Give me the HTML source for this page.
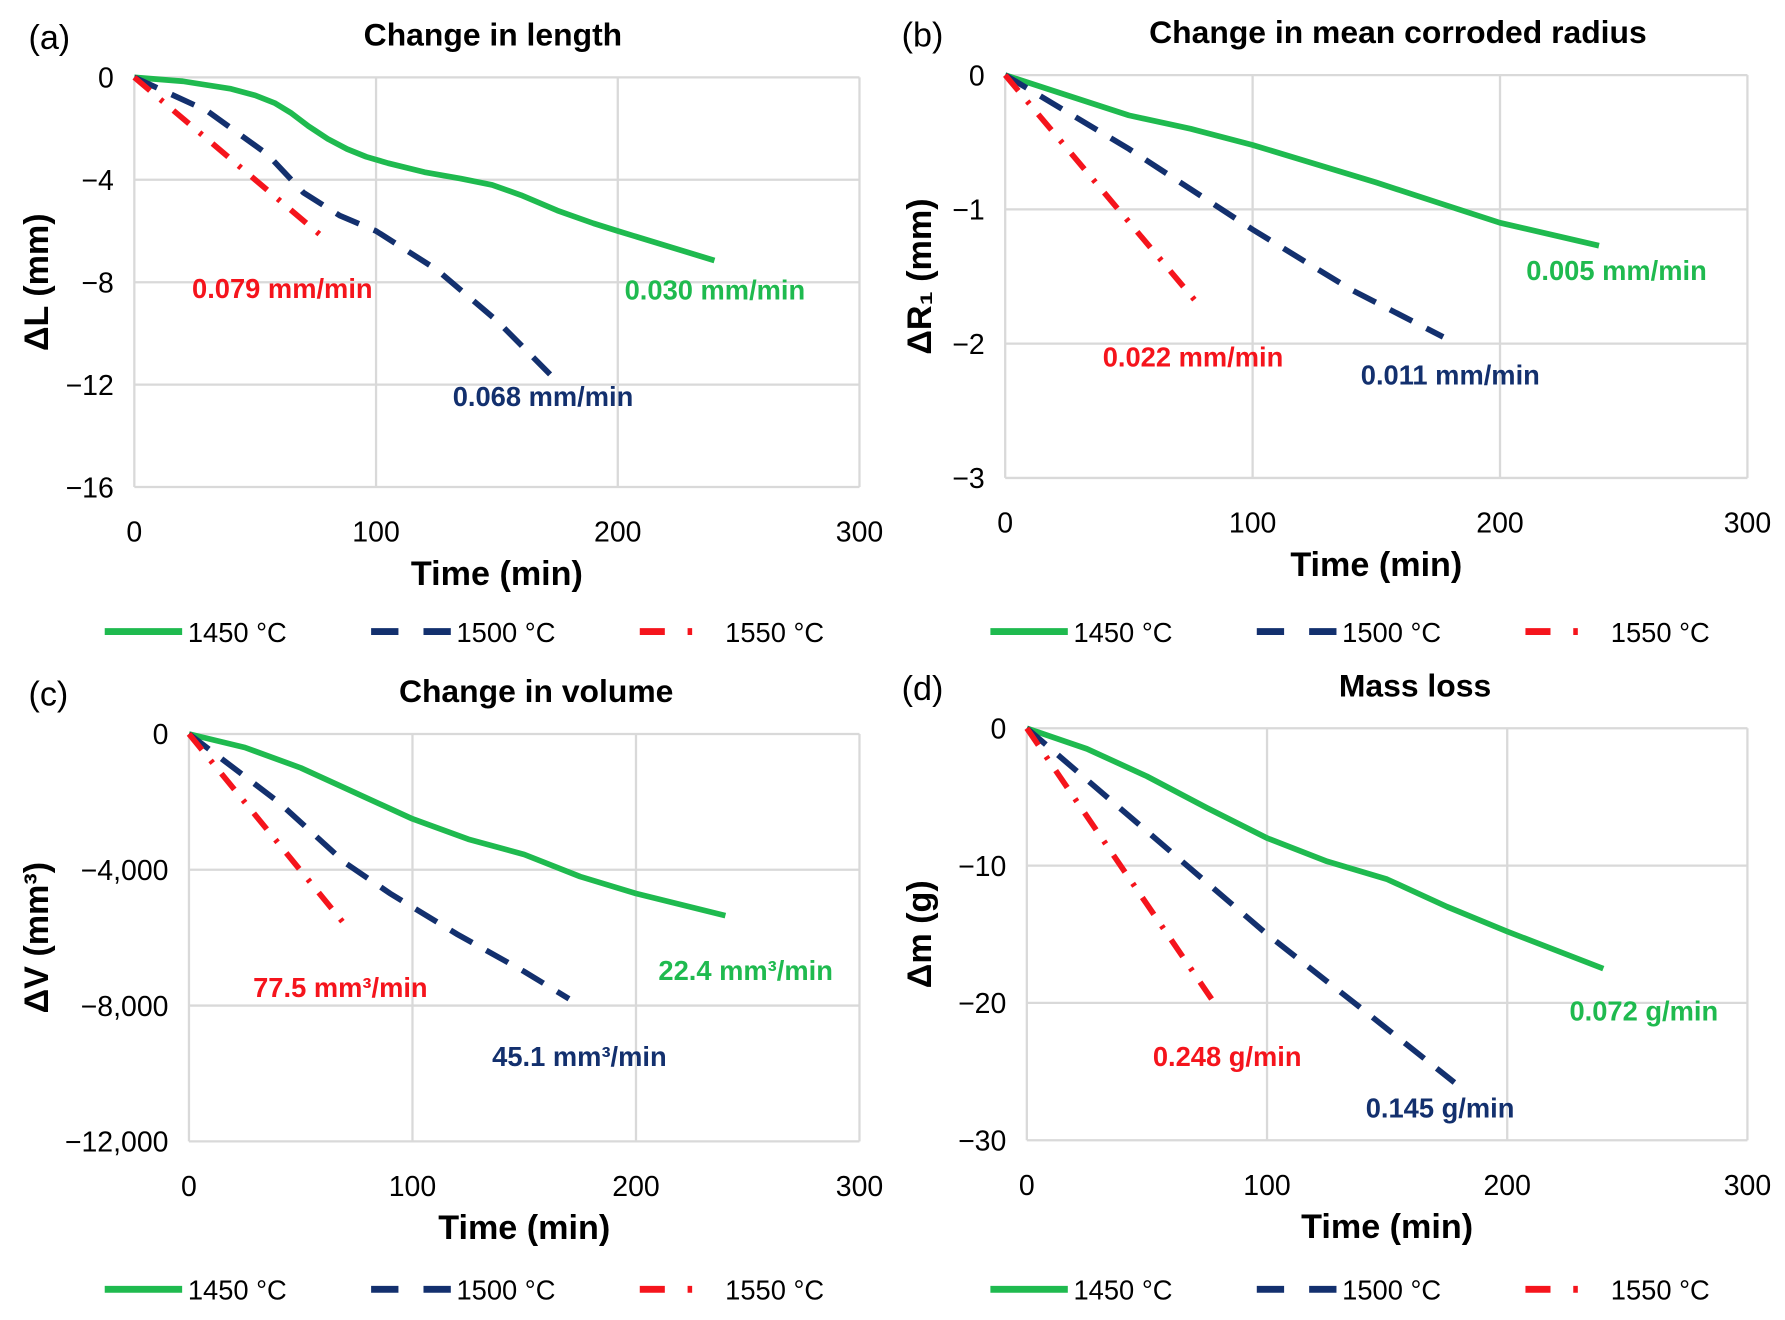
<!DOCTYPE html>
<html><head><meta charset="utf-8"><style>
html,body{margin:0;padding:0;background:#fff}
svg{display:block}
text{font-family:"Liberation Sans","DejaVu Sans",sans-serif}
</style></head><body>
<svg id="s" width="1785" height="1320" viewBox="0 0 1568 1160" preserveAspectRatio="none" xmlns="http://www.w3.org/2000/svg"></svg>
<script>
const s=document.getElementById('s');let h='';
const G='#1fba4f',B='#13306e',R='#f5141c';
function panel(p){
 const {x0,x1,y0,y1,ymin,yt,ytl}=p;
 const X=t=>x0+(x1-x0)*t/300, Y=v=>y0+(y1-y0)*v/ymin;
 for(const v of yt){h+=`<line x1="${x0}" x2="${x1}" y1="${Y(v)}" y2="${Y(v)}" stroke="#d9d9d9" stroke-width="2"/>`;}
 for(const t of [0,100,200,300]){h+=`<line x1="${X(t)}" x2="${X(t)}" y1="${y0}" y2="${y1}" stroke="#d9d9d9" stroke-width="2"/>`;
  h+=`<text x="${X(t)}" y="${y1+48}" font-size="25" text-anchor="middle" fill="#000">${t}</text>`;}
 yt.forEach((v,i)=>{h+=`<text x="${x0-18}" y="${Y(v)+9}" font-size="25" text-anchor="end">${ytl[i]}</text>`;});
 h+=`<text x="${(x0+x1)/2}" y="${y1+86}" font-size="30" font-weight="bold" text-anchor="middle">Time (min)</text>`;
 h+=`<text x="${p.tx}" y="${y0-28}" font-size="28" font-weight="bold" text-anchor="middle">${p.title}</text>`;
 h+=`<text x="${p.lx}" y="${y0-25}" font-size="30">${p.letter}</text>`;
 h+=`<text transform="translate(${p.ax},${(y0+y1)/2}) rotate(-90)" font-size="30" font-weight="bold" text-anchor="middle">${p.ylab}</text>`;
 const path=(pts)=>'M'+pts.map(q=>X(q[0]).toFixed(1)+','+Y(q[1]).toFixed(1)).join(' L');
 h+=`<path d="${path(p.g)}" fill="none" stroke="${G}" stroke-width="5" stroke-linejoin="round"/>`;
 h+=`<path d="${path(p.b)}" fill="none" stroke="${B}" stroke-width="5" stroke-dasharray="22,14"/>`;
 h+=`<path d="${path(p.r)}" fill="none" stroke="${R}" stroke-width="5" stroke-dasharray="18,12,3,12"/>`;
 for(const l of p.labs){h+=`<text x="${l[0]}" y="${l[1]}" font-size="24" font-weight="bold" fill="${l[2]}" text-anchor="middle">${l[3]}</text>`;}
 const ly=p.ly, ox=p.lox;
 h+=`<line x1="${ox+92}" x2="${ox+160}" y1="${ly}" y2="${ly}" stroke="${G}" stroke-width="6"/><text x="${ox+165}" y="${ly+9}" font-size="24">1450 °C</text>`;
 h+=`<line x1="${ox+326}" x2="${ox+396}" y1="${ly}" y2="${ly}" stroke="${B}" stroke-width="6" stroke-dasharray="24,22"/><text x="${ox+401}" y="${ly+9}" font-size="24">1500 °C</text>`;
 h+=`<line x1="${ox+562}" x2="${ox+615}" y1="${ly}" y2="${ly}" stroke="${R}" stroke-width="6" stroke-dasharray="22,20,4,20"/><text x="${ox+637}" y="${ly+9}" font-size="24">1550 °C</text>`;
}
panel({x0:118,x1:755,y0:68,y1:428,ymin:-16,yt:[0,-4,-8,-12,-16],ytl:['0','−4','−8','−12','−16'],
 title:'Change in length',tx:433,letter:'(a)',lx:25,ax:42,ylab:'ΔL (mm)',ly:555,lox:0,
 g:[[0,0],[20,-0.15],[40,-0.45],[50,-0.7],[58,-1],[65,-1.4],[72,-1.9],[80,-2.4],[88,-2.8],[96,-3.1],[105,-3.35],[120,-3.7],[135,-3.95],[148,-4.2],[160,-4.6],[175,-5.2],[190,-5.7],[200,-6],[240,-7.15]],
 b:[[0,0],[30,-1.3],[55,-3],[70,-4.5],[85,-5.4],[100,-6],[125,-7.5],[150,-9.5],[172,-11.6]],
 r:[[0,0],[80,-6.4]],
 labs:[[248,262,R,'0.079 mm/min'],[628,263,G,'0.030 mm/min'],[477,357,B,'0.068 mm/min']]});
panel({x0:883,x1:1535,y0:66,y1:420,ymin:-3,yt:[0,-1,-2,-3],ytl:['0','−1','−2','−3'],
 title:'Change in mean corroded radius',tx:1228,letter:'(b)',lx:792,ax:818,ylab:'ΔR₁ (mm)',ly:555,lox:778,
 g:[[0,0],[25,-0.15],[50,-0.3],[75,-0.4],[100,-0.52],[125,-0.66],[150,-0.8],[175,-0.95],[200,-1.1],[240,-1.27]],
 b:[[0,0],[50,-0.55],[100,-1.15],[140,-1.6],[177,-1.95]],
 r:[[0,0],[80,-1.75]],
 labs:[[1048,322,R,'0.022 mm/min'],[1420,246,G,'0.005 mm/min'],[1274,338,B,'0.011 mm/min']]});
panel({x0:166,x1:755,y0:645,y1:1003,ymin:-12000,yt:[0,-4000,-8000,-12000],ytl:['0','−4,000','−8,000','−12,000'],
 title:'Change in volume',tx:471,letter:'(c)',lx:25,ax:42,ylab:'ΔV (mm³)',ly:1133,lox:0,
 g:[[0,0],[25,-400],[50,-1000],[70,-1600],[100,-2500],[125,-3100],[150,-3550],[175,-4200],[200,-4700],[240,-5350]],
 b:[[0,0],[40,-2000],[70,-3800],[90,-4700],[120,-5900],[150,-7000],[170,-7800]],
 r:[[0,0],[72,-5800]],
 labs:[[299,876,R,'77.5 mm³/min'],[655,861,G,'22.4 mm³/min'],[509,937,B,'45.1 mm³/min']]});
panel({x0:902,x1:1535,y0:640,y1:1002,ymin:-30,yt:[0,-10,-20,-30],ytl:['0','−10','−20','−30'],
 title:'Mass loss',tx:1243,letter:'(d)',lx:792,ax:818,ylab:'Δm (g)',ly:1133,lox:778,
 g:[[0,0],[25,-1.5],[50,-3.5],[75,-5.8],[100,-8],[125,-9.7],[150,-11],[175,-13],[200,-14.8],[240,-17.5]],
 b:[[0,0],[50,-7.5],[100,-15],[140,-20.5],[178,-25.8]],
 r:[[0,0],[78,-20]],
 labs:[[1078,937,R,'0.248 g/min'],[1444,897,G,'0.072 g/min'],[1265,982,B,'0.145 g/min']]});
s.innerHTML=h;
</script>
</body></html>
